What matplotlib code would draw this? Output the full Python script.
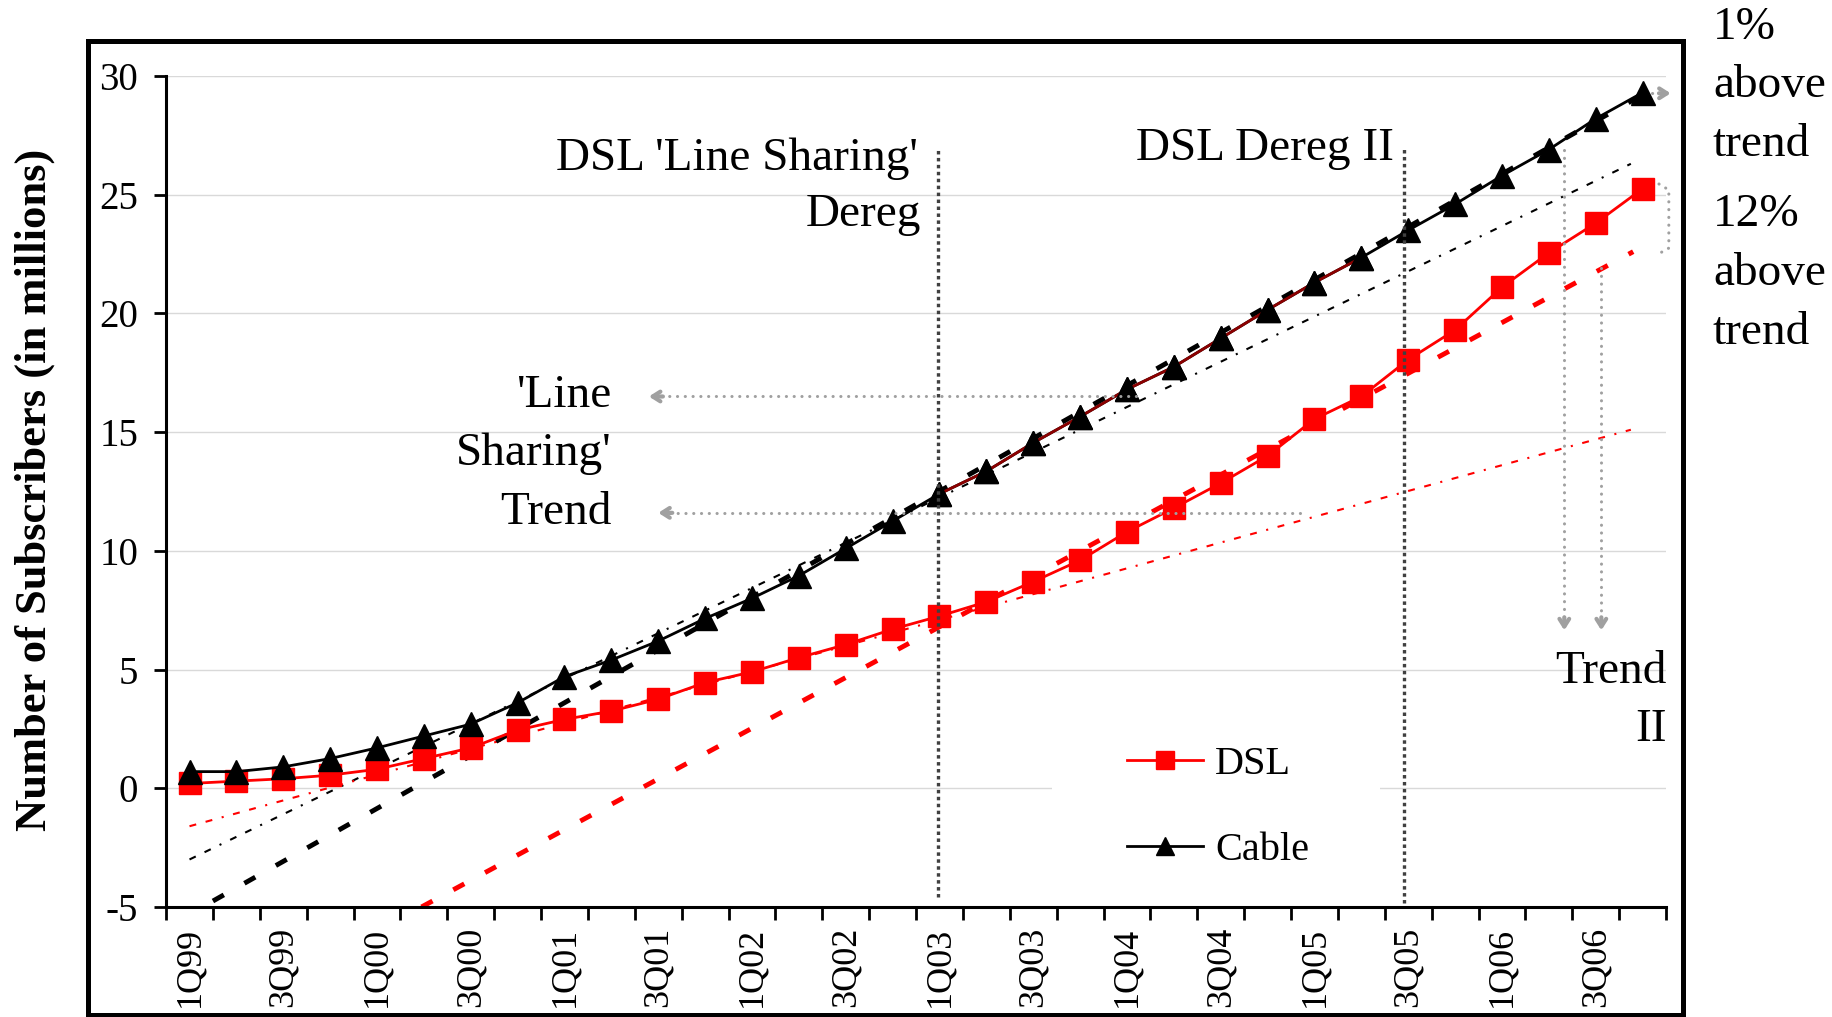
import numpy as np
import matplotlib.pyplot as plt
from matplotlib.patches import Rectangle

plt.rcParams['font.family'] = ['Liberation Serif', 'DejaVu Serif']
plt.rcParams['lines.scale_dashes'] = False
plt.rcParams['axes.unicode_minus'] = False

# quarterly subscribers, millions (1Q99 .. 4Q06)
years = ['99', '00', '01', '02', '03', '04', '05', '06']
quarters = [f"{q}Q{y}" for y in years for q in range(1, 5)]

dsl = [0.2, 0.3, 0.4, 0.55, 0.8, 1.25, 1.7, 2.45, 2.9, 3.25, 3.75, 4.45,
       4.9, 5.5, 6.05, 6.7, 7.25, 7.85, 8.7, 9.6, 10.8, 11.8, 12.85, 14.0,
       15.55, 16.5, 18.05, 19.3, 21.1, 22.55, 23.8, 25.25]
cable = [0.7, 0.7, 0.9, 1.25, 1.7, 2.2, 2.7, 3.6, 4.7, 5.4, 6.2, 7.15,
         8.0, 8.95, 10.1, 11.25, 12.4, 13.35, 14.55, 15.65, 16.8, 17.75, 18.95, 20.15,
         21.3, 22.35, 23.5, 24.6, 25.8, 26.9, 28.2, 29.3]

# trend lines (start / end)
ls_trend_x = [0, 30.75]
cable_ls_trend = [-3.0, 26.3]
dsl_ls_trend = [-1.6, 15.1]
cable_t2_x = [0.5, 30.9]
cable_t2 = [-4.75, 29.1]
dsl_t2_x = [4.95, 30.8]
dsl_t2 = [-5.0, 22.6]

x = np.arange(len(quarters))
grey = '#a0a0a0'

fig = plt.figure(figsize=(18.33, 10.17), dpi=100)
ax = fig.add_axes([0.0906, 0.1082, 0.8183, 0.8171])

# outer frame
fig.patches.append(Rectangle((0.048, 0.002), 0.870, 0.958, transform=fig.transFigure,
                             fill=False, lw=3.6, ec='black'))

ax.set_xlim(-0.5, 31.5)
ax.set_ylim(-5, 30)
ax.set_axisbelow(True)
ax.yaxis.grid(True, color='#d9d9d9', lw=1)
ax.set_yticks(range(-5, 31, 5))
ax.tick_params(axis='y', labelsize=28, length=9, width=2, pad=11)

ax.set_xticks(x[::2])
ax.set_xticklabels(quarters[::2], rotation=90)
ax.set_xticks(np.arange(-0.5, 32, 1), minor=True)
ax.tick_params(axis='x', which='major', length=0, labelsize=26, pad=14)
ax.tick_params(axis='x', which='minor', length=9, width=2)

for s in ['top', 'right']:
    ax.spines[s].set_visible(False)
for s in ['left', 'bottom']:
    ax.spines[s].set_linewidth(2.2)

# hide the zero gridline behind legend
ax.add_patch(Rectangle((18.4, -0.4), 7.0, 0.8, fc='white', ec='none', zorder=1))

# trends
ax.plot(ls_trend_x, cable_ls_trend, color='black', lw=1.5, dashes=(5, 7, 5, 7, 1.5, 7), zorder=2.5)
ax.plot(ls_trend_x, dsl_ls_trend, color='red', lw=1.5, dashes=(5, 7, 5, 7, 1.5, 7), zorder=2.5)
ax.plot(cable_t2_x, cable_t2, color='black', lw=3.5, dashes=(9, 17), zorder=2.5)
ax.plot(dsl_t2_x, dsl_t2, color='red', lw=3.5, dashes=(9, 17), zorder=2.5)

l_dsl, = ax.plot(x, dsl, color='red', lw=2, marker='s', ms=16, label='DSL', zorder=3)
l_cab, = ax.plot(x, cable, color='black', lw=2, marker='^', ms=17, label='Cable', zorder=3)
ax.plot(x[16:26], cable[16:26], color='#8b0000', lw=2, zorder=3.1)
ax.plot(x[16:26], cable[16:26], ls='none', marker='^', ms=17, color='black', zorder=3.2)

# deregulation markers
ax.plot([15.96, 15.96], [-4.6, 27.0], color='#404040', lw=2.4, dashes=(2.5, 2.5), zorder=5)
ax.plot([25.9, 25.9], [-4.85, 27.0], color='#404040', lw=2.4, dashes=(2.5, 2.5), zorder=5)

def dotted(xs, ys):
    ax.plot(xs, ys, color=grey, lw=2.2, dashes=(0.1, 5.5), dash_capstyle='round',
            zorder=5, clip_on=False)

def head(tip, frm):
    ax.annotate('', xy=tip, xytext=frm, annotation_clip=False,
                arrowprops=dict(arrowstyle='->,head_length=0.55,head_width=0.35',
                                color=grey, lw=3, shrinkA=0, shrinkB=0), zorder=5)

dotted([20.2, 9.9], [16.5, 16.5]); head((9.8, 16.5), (10.1, 16.5))
dotted([23.7, 10.1], [11.6, 11.6]); head((10.0, 11.6), (10.3, 11.6))
dotted([29.33, 29.33], [26.9, 6.8]); head((29.33, 6.65), (29.33, 7.2))
dotted([30.12, 30.12], [21.9, 6.8]); head((30.12, 6.65), (30.12, 7.2))
dotted([31.2, 31.5], [29.27, 29.27]); head((31.6, 29.27), (31.35, 29.27))
dotted([31.35, 31.56, 31.56, 31.38], [25.45, 25.2, 22.75, 22.55])

# annotations
big = 34
ax.text(15.54, 26.05, "DSL 'Line Sharing'", ha='right', va='baseline', fontsize=big)
ax.text(15.6, 23.69, "Dereg", ha='right', va='baseline', fontsize=big)
ax.text(25.7, 26.45, "DSL Dereg II", ha='right', va='baseline', fontsize=big)
ax.text(9.0, 16.06, "'Line", ha='right', va='baseline', fontsize=big)
ax.text(9.0, 13.6, "Sharing'", ha='right', va='baseline', fontsize=big)
ax.text(9.0, 11.14, "Trend", ha='right', va='baseline', fontsize=big)
ax.text(31.52, 4.45, "Trend", ha='right', va='baseline', fontsize=big)
ax.text(31.52, 2.0, "II", ha='right', va='baseline', fontsize=big)
for lbl, yy in zip(["1%", "above", "trend", "12%", "above", "trend"],
                   [31.57, 29.1, 26.65, 23.7, 21.2, 18.72]):
    ax.text(32.5, yy, lbl, ha='left', va='baseline', fontsize=big, clip_on=False)

fig.text(0.019, 0.518, 'Number of Subscribers (in millions)', rotation=90,
         ha='center', va='center', fontsize=32, fontweight='bold')

ax.legend(handles=[l_dsl, l_cab], loc='upper left', bbox_to_anchor=(0.627, 0.218),
          frameon=False, fontsize=29, handlelength=1.9, handletextpad=0.3,
          labelspacing=1.2, borderpad=0, markerscale=0.8)

fig.savefig('out.png', dpi=100)
